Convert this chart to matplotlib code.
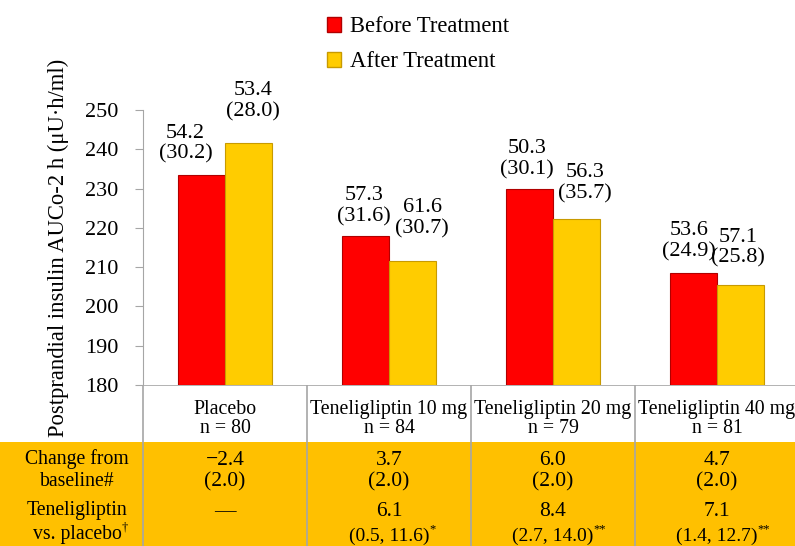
import numpy as np
import matplotlib
matplotlib.use("Agg")
import matplotlib.pyplot as plt
from matplotlib.patches import Patch, Rectangle

plt.rcParams['font.family'] = ['Liberation Serif', 'DejaVu Serif']

groups = ['Placebo', 'Teneligliptin 10 mg', 'Teneligliptin 20 mg', 'Teneligliptin 40 mg']
n_values = [80, 84, 79, 81]
before = [233.4, 218.0, 230.0, 208.4]
after = [241.7, 211.6, 222.3, 205.4]
before_labels = ['54.2\n(30.2)', '57.3\n(31.6)', '50.3\n(30.1)', '53.6\n(24.9)']
after_labels = ['53.4\n(28.0)', '61.6\n(30.7)', '56.3\n(35.7)', '57.1\n(25.8)']
change = ['\u22122.4\n(2.0)', '3.7\n(2.0)', '6.0\n(2.0)', '4.7\n(2.0)']
vs_placebo = ['\u2014', '6.1', '8.4', '7.1']
vs_ci = ['', '(0.5, 11.6)', '(2.7, 14.0)', '(1.4, 12.7)']
vs_sig = ['', '*', '**', '**']
row_lines = ['Change from', 'baseline#', 'Teneligliptin', 'vs. placebo']
row_marks = ['', '', '', '\u2020']

red = '#FF0000'
yellow = '#FFCC00'
table_orange = '#FFC000'
grid_gray = '#A6A6A6'

W, H = 795, 546
fig = plt.figure(figsize=(7.95, 5.46), dpi=100)

# pixel geometry from the reference
ax_left, ax_right, ax_top, ax_bot = 143, 795, 110, 385
col_w = 164.0
ax = fig.add_axes([ax_left / W, 1 - ax_bot / H, (ax_right - ax_left) / W, (ax_bot - ax_top) / H])

x = np.arange(len(groups))
bw = 0.285
xmax = -0.5 + (ax_right - ax_left) / col_w
ax.bar(x - bw / 2, np.array(before) - 180, bw, bottom=180, color=red, edgecolor='#B00000', linewidth=0.8)
ax.bar(x + bw / 2, np.array(after) - 180, bw, bottom=180, color=yellow, edgecolor='#C89A00', linewidth=0.8)
ax.set_xlim(-0.5, xmax)
ax.set_ylim(180, 250)
ax.set_yticks(np.arange(180, 251, 10))
ax.tick_params(axis='y', labelsize=16, color=grid_gray, length=6, pad=12)
ax.set_xticks([])
for s in ['top', 'right', 'bottom']:
    ax.spines[s].set_visible(False)
ax.spines['left'].set_color(grid_gray)

# bar value labels (dx px, dy px from bar top to 2nd line centre)
b_off = [(-16, 18), (-2, 16), (-3, 16), (-5, 19)]
a_off = [(5, 28), (10, 29), (9, 22), (-2, 24)]
for i in range(len(groups)):
    for val, lab, off, sgn in [(before[i], before_labels[i], b_off[i], -1), (after[i], after_labels[i], a_off[i], 1)]:
        ax.annotate(lab, xy=(i + sgn * bw / 2, val), xytext=(off[0] * 0.72, (off[1] + 13.5) * 0.72),
                    textcoords='offset points', ha='center', va='center', fontsize=16, linespacing=1.15)

# legend
handles = [Patch(facecolor=red, edgecolor='#B00000'), Patch(facecolor=yellow, edgecolor='#C89A00')]
fig.legend(handles, ['Before Treatment', 'After Treatment'], loc='upper left',
           bbox_to_anchor=(307 / W, 1 + 4 / H), frameon=False, fontsize=16.3,
           handlelength=0.62, handleheight=0.62, handletextpad=0.4, labelspacing=0.62)

fig.text(58 / W, 1 - 248 / H, 'Postprandial insulin AUCo-2 h (\u03bcU\u00b7h/ml)', rotation=90,
         ha='center', va='center', fontsize=16.3)

# table beneath
tx = fig.add_axes([0, 0, 1, 1 - ax_bot / H])
tx.set_xlim(0, W)
tx.set_ylim(H, ax_bot)
tx.axis('off')
tx.add_patch(Rectangle((0, 442), W, H - 442, facecolor=table_orange, edgecolor='none'))
tx.plot([ax_left, W], [ax_bot, ax_bot], color=grid_gray, lw=1.2)
col_edges = [ax_left + col_w * k for k in range(len(groups))]
for xe in col_edges:
    tx.plot([xe, xe], [ax_bot, H], color=grid_gray, lw=1.2)

for k, g in enumerate(groups):
    cx = ax_left + col_w * (k + 0.5)
    tx.text(cx, 419, f'{g}\nn = {n_values[k]}', ha='center', va='center', fontsize=14.3, linespacing=0.95)
    tx.text(cx, 471, change[k], ha='center', va='center', fontsize=15.5, linespacing=1.15)
    tx.text(cx, 512, vs_placebo[k], ha='center', va='center', fontsize=15.5)
    if vs_ci[k]:
        t = tx.text(cx, 536, vs_ci[k], ha='center', va='center', fontsize=14)
        tx.annotate(vs_sig[k], xy=(1, 0.55), xycoords=t, ha='left', va='bottom', fontsize=9)

row_y = [459, 481, 511, 534]
for line, mark, yy in zip(row_lines, row_marks, row_y):
    t = tx.text(77, yy, line, ha='center', va='center', fontsize=14.2)
    if mark:
        tx.annotate(mark, xy=(1, 0.55), xycoords=t, ha='left', va='bottom', fontsize=9)

fig.savefig('out.png', dpi=100)
